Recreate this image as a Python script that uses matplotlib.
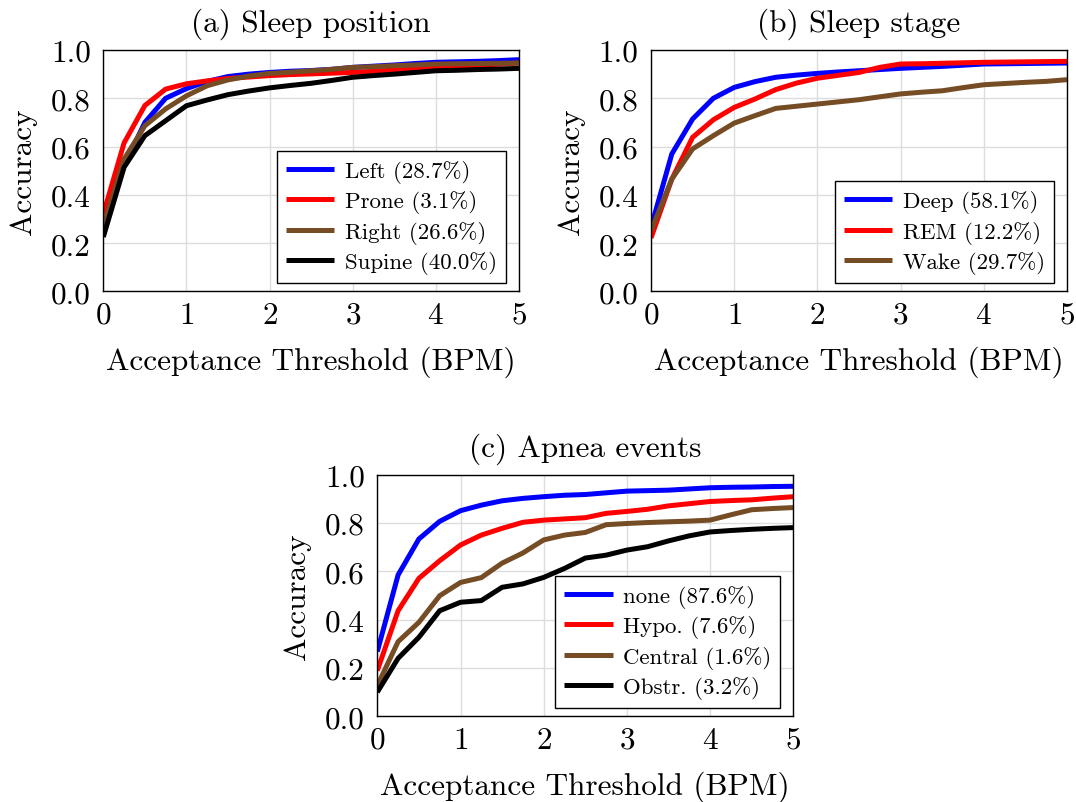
import matplotlib
matplotlib.use("Agg")
import matplotlib.pyplot as plt

plt.rcParams["font.family"] = ["cmr10", "DejaVu Serif"]
plt.rcParams["axes.unicode_minus"] = False
plt.rcParams["axes.formatter.use_mathtext"] = True

# Acceptance thresholds (BPM)
thr = [0, 0.25, 0.5, 0.75, 1, 1.25, 1.5, 1.75, 2, 2.25, 2.5, 2.75, 3,
       3.25, 3.5, 3.75, 4, 4.25, 4.5, 4.75, 5]

# (a) Sleep position
pos_left = [0.26, 0.52, 0.70, 0.80, 0.84, 0.87, 0.89, 0.90, 0.907, 0.912, 0.915,
            0.92, 0.928, 0.933, 0.938, 0.944, 0.949, 0.951, 0.953, 0.956, 0.96]
pos_prone = [0.32, 0.615, 0.77, 0.838, 0.86, 0.872, 0.882, 0.888, 0.894, 0.898, 0.901,
             0.904, 0.907, 0.912, 0.917, 0.922, 0.928, 0.932, 0.937, 0.941, 0.946]
pos_right = [0.27, 0.548, 0.686, 0.756, 0.81, 0.852, 0.876, 0.892, 0.903, 0.908, 0.914,
             0.92, 0.928, 0.931, 0.935, 0.938, 0.942, 0.943, 0.944, 0.945, 0.946]
pos_supine = [0.225, 0.514, 0.645, 0.707, 0.769, 0.793, 0.815, 0.83, 0.843, 0.853, 0.862,
              0.874, 0.887, 0.894, 0.90, 0.907, 0.914, 0.916, 0.919, 0.921, 0.924]

# (b) Sleep stage
stg_deep = [0.265, 0.569, 0.714, 0.80, 0.845, 0.869, 0.887, 0.896, 0.903, 0.909, 0.914,
            0.919, 0.924, 0.928, 0.932, 0.937, 0.942, 0.943, 0.944, 0.945, 0.946]
stg_rem = [0.221, 0.465, 0.638, 0.711, 0.762, 0.797, 0.836, 0.863, 0.883, 0.895, 0.907,
           0.928, 0.942, 0.943, 0.945, 0.947, 0.949, 0.950, 0.951, 0.952, 0.953]
stg_wake = [0.251, 0.465, 0.59, 0.645, 0.697, 0.728, 0.758, 0.767, 0.776, 0.785, 0.794,
            0.806, 0.818, 0.825, 0.831, 0.844, 0.856, 0.861, 0.866, 0.870, 0.877]

# (c) Apnea events
apn_none = [0.268, 0.585, 0.734, 0.807, 0.851, 0.874, 0.892, 0.902, 0.909, 0.915, 0.918,
            0.925, 0.932, 0.934, 0.936, 0.941, 0.946, 0.948, 0.949, 0.951, 0.952]
apn_hypo = [0.189, 0.437, 0.571, 0.644, 0.709, 0.75, 0.778, 0.803, 0.812, 0.817, 0.822,
            0.84, 0.848, 0.857, 0.871, 0.88, 0.889, 0.893, 0.896, 0.903, 0.909]
apn_central = [0.127, 0.309, 0.389, 0.499, 0.554, 0.574, 0.634, 0.676, 0.73, 0.75, 0.761,
               0.793, 0.798, 0.802, 0.805, 0.808, 0.812, 0.834, 0.855, 0.86, 0.864]
apn_obstr = [0.10, 0.24, 0.327, 0.437, 0.472, 0.479, 0.534, 0.548, 0.575, 0.612, 0.655,
             0.667, 0.688, 0.702, 0.726, 0.747, 0.763, 0.769, 0.774, 0.778, 0.781]

BLUE, RED, BROWN, BLACK = "#0000ff", "#ff0000", "#754c24", "#000000"

panels = [
    ("(a) Sleep position", [103.3, 51, 519, 292.3],
     [(pos_left, BLUE, "Left (28.7%)"), (pos_prone, RED, "Prone (3.1%)"),
      (pos_right, BROWN, "Right (26.6%)"), (pos_supine, BLACK, "Supine (40.0%)")]),
    ("(b) Sleep stage", [651, 51, 1067, 292.3],
     [(stg_deep, BLUE, "Deep (58.1%)"), (stg_rem, RED, "REM (12.2%)"),
      (stg_wake, BROWN, "Wake (29.7%)")]),
    ("(c) Apnea events", [377.3, 475.7, 793.3, 717.3],
     [(apn_none, BLUE, "none (87.6%)"), (apn_hypo, RED, "Hypo. (7.6%)"),
      (apn_central, BROWN, "Central (1.6%)"), (apn_obstr, BLACK, "Obstr. (3.2%)")]),
]

W, H = 1076, 803
fig = plt.figure(figsize=(W / 100, H / 100), dpi=100)

for title, (x0, y0, x1, y1), series in panels:
    aw, ah = x1 - x0, y1 - y0
    ax = fig.add_axes([x0 / W, 1 - y1 / H, aw / W, ah / H])
    for vals, col, lab in series:
        ax.plot(thr, vals, color=col, lw=3.6, label=lab, solid_joinstyle="miter",
                solid_capstyle="butt")
    ax.set_xlim(0, 5)
    ax.set_ylim(0, 1)
    ax.set_xticks([0, 1, 2, 3, 4, 5])
    ax.set_yticks([0, 0.2, 0.4, 0.6, 0.8, 1.0])
    ax.set_yticklabels(["0.0", "0.2", "0.4", "0.6", "0.8", "1.0"])
    ax.grid(True, color="#dcdcdc", lw=1.0)
    ax.set_axisbelow(True)
    ax.tick_params(axis="y", length=0, labelsize=22.5, pad=9)
    ax.tick_params(axis="x", length=0, labelsize=22.5, pad=7)
    for sp in ax.spines.values():
        sp.set_linewidth(1.0)
    ax.set_title(title, fontsize=22.5, pad=14)
    ax.set_xlabel("Acceptance Threshold (BPM)", fontsize=22.5, labelpad=12)
    ax.set_ylabel("Accuracy", fontsize=22.5, labelpad=10)
    leg = ax.legend(loc="lower right", bbox_to_anchor=(1 - 13 / aw, 8 / ah),
                    fontsize=16.5, frameon=True, fancybox=False,
                    edgecolor="black", framealpha=1, handlelength=2.1,
                    handletextpad=0.45, labelspacing=0.32, borderaxespad=0,
                    borderpad=0.4)
    leg.get_frame().set_linewidth(1.0)

fig.savefig("out.png", dpi=100)
